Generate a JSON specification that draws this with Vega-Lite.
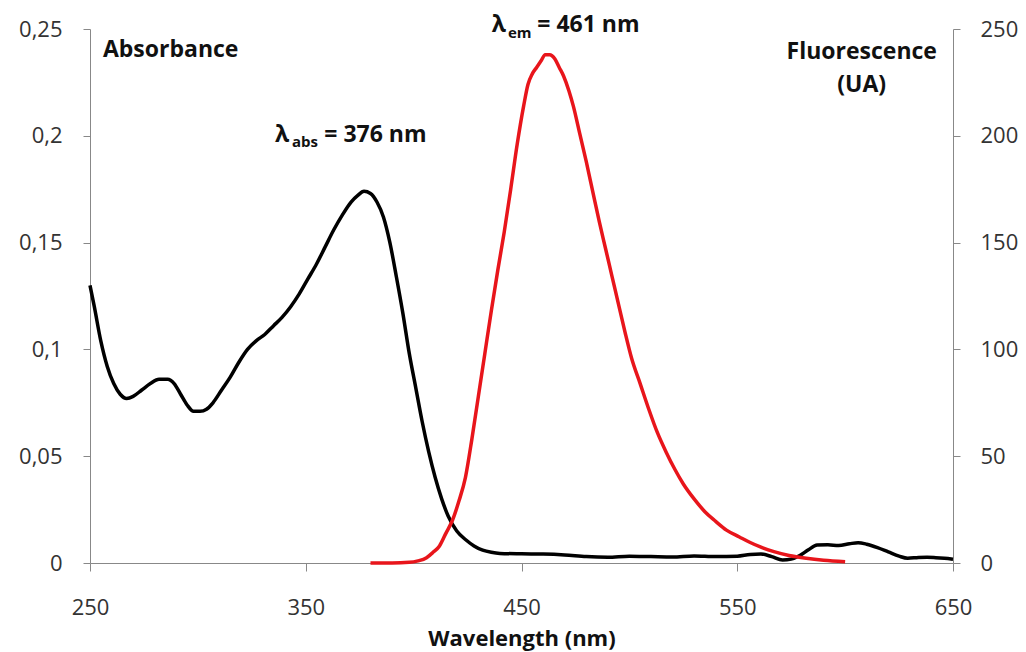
{
  "$schema": "https://vega.github.io/schema/vega-lite/v6.json",
  "width": 863,
  "height": 534,
  "autosize": {"type": "none"},
  "padding": {"left": 90, "top": 29, "right": 73, "bottom": 89},
  "background": "white",
  "config": {"view": {"stroke": null}, "font": "Open Sans"},
  "datasets": {
    "absorbance": [
      {"wl": 250, "v": 0.130}, {"wl": 252, "v": 0.120}, {"wl": 255, "v": 0.104}, {"wl": 258, "v": 0.092},
      {"wl": 261, "v": 0.084}, {"wl": 264, "v": 0.079}, {"wl": 267, "v": 0.077}, {"wl": 270, "v": 0.078},
      {"wl": 274, "v": 0.081}, {"wl": 278, "v": 0.084}, {"wl": 282, "v": 0.086}, {"wl": 286, "v": 0.086},
      {"wl": 289, "v": 0.084}, {"wl": 292, "v": 0.079}, {"wl": 295, "v": 0.074}, {"wl": 298, "v": 0.071},
      {"wl": 301, "v": 0.071}, {"wl": 304, "v": 0.072}, {"wl": 307, "v": 0.075}, {"wl": 311, "v": 0.081},
      {"wl": 315, "v": 0.087}, {"wl": 319, "v": 0.094}, {"wl": 323, "v": 0.100}, {"wl": 327, "v": 0.104},
      {"wl": 331, "v": 0.107}, {"wl": 335, "v": 0.111}, {"wl": 339, "v": 0.115}, {"wl": 343, "v": 0.120},
      {"wl": 347, "v": 0.126}, {"wl": 351, "v": 0.133}, {"wl": 355, "v": 0.140}, {"wl": 359, "v": 0.148},
      {"wl": 363, "v": 0.156}, {"wl": 367, "v": 0.163}, {"wl": 371, "v": 0.169}, {"wl": 374, "v": 0.172},
      {"wl": 377, "v": 0.174}, {"wl": 380, "v": 0.173}, {"wl": 383, "v": 0.169}, {"wl": 386, "v": 0.162},
      {"wl": 389, "v": 0.150}, {"wl": 392, "v": 0.134}, {"wl": 395, "v": 0.117}, {"wl": 398, "v": 0.098},
      {"wl": 401, "v": 0.082}, {"wl": 404, "v": 0.066}, {"wl": 407, "v": 0.052}, {"wl": 410, "v": 0.040},
      {"wl": 413, "v": 0.030}, {"wl": 416, "v": 0.022}, {"wl": 420, "v": 0.015}, {"wl": 424, "v": 0.011},
      {"wl": 428, "v": 0.008}, {"wl": 432, "v": 0.006}, {"wl": 436, "v": 0.005}, {"wl": 440, "v": 0.0045},
      {"wl": 450, "v": 0.0043}, {"wl": 460, "v": 0.0042}, {"wl": 470, "v": 0.0038}, {"wl": 480, "v": 0.0030},
      {"wl": 490, "v": 0.0027}, {"wl": 500, "v": 0.0032}, {"wl": 510, "v": 0.0030}, {"wl": 520, "v": 0.0028},
      {"wl": 530, "v": 0.0033}, {"wl": 540, "v": 0.0030}, {"wl": 550, "v": 0.0032}, {"wl": 556, "v": 0.0040},
      {"wl": 561, "v": 0.0042}, {"wl": 566, "v": 0.0030}, {"wl": 571, "v": 0.0014}, {"wl": 575, "v": 0.0018},
      {"wl": 579, "v": 0.0035}, {"wl": 583, "v": 0.0062}, {"wl": 587, "v": 0.0084}, {"wl": 592, "v": 0.0085},
      {"wl": 597, "v": 0.0082}, {"wl": 602, "v": 0.0090}, {"wl": 606, "v": 0.0095}, {"wl": 610, "v": 0.0088},
      {"wl": 615, "v": 0.0072}, {"wl": 620, "v": 0.0052}, {"wl": 625, "v": 0.0032}, {"wl": 629, "v": 0.0022},
      {"wl": 634, "v": 0.0026}, {"wl": 638, "v": 0.0027}, {"wl": 642, "v": 0.0025}, {"wl": 646, "v": 0.0022},
      {"wl": 650, "v": 0.0018}
    ],
    "fluorescence": [
      {"wl": 380, "f": 0}, {"wl": 390, "f": 0}, {"wl": 398, "f": 0.3}, {"wl": 402, "f": 1},
      {"wl": 406, "f": 2.5}, {"wl": 409, "f": 5}, {"wl": 412, "f": 8}, {"wl": 415, "f": 14},
      {"wl": 418, "f": 20}, {"wl": 421, "f": 29}, {"wl": 424, "f": 40}, {"wl": 427, "f": 58},
      {"wl": 430, "f": 78}, {"wl": 433, "f": 98}, {"wl": 436, "f": 118}, {"wl": 439, "f": 137},
      {"wl": 442, "f": 155}, {"wl": 445, "f": 175}, {"wl": 448, "f": 196}, {"wl": 451, "f": 214},
      {"wl": 453, "f": 224}, {"wl": 455, "f": 229}, {"wl": 457, "f": 232}, {"wl": 459, "f": 235},
      {"wl": 461, "f": 238}, {"wl": 463, "f": 238}, {"wl": 465.5, "f": 236}, {"wl": 467.5, "f": 232},
      {"wl": 469.5, "f": 228}, {"wl": 472, "f": 221}, {"wl": 474, "f": 214}, {"wl": 477, "f": 201},
      {"wl": 480, "f": 188}, {"wl": 483, "f": 174}, {"wl": 486, "f": 160}, {"wl": 489, "f": 147},
      {"wl": 492, "f": 134}, {"wl": 495, "f": 121}, {"wl": 498, "f": 108}, {"wl": 501, "f": 96},
      {"wl": 505, "f": 84}, {"wl": 509, "f": 72}, {"wl": 513, "f": 61},
      {"wl": 517, "f": 52}, {"wl": 521, "f": 44}, {"wl": 525, "f": 37}, {"wl": 530, "f": 30},
      {"wl": 535, "f": 24}, {"wl": 540, "f": 19.5}, {"wl": 545, "f": 15.4}, {"wl": 551, "f": 12.2},
      {"wl": 556, "f": 9.6}, {"wl": 561, "f": 7.4}, {"wl": 567, "f": 5.3}, {"wl": 574, "f": 3.5},
      {"wl": 582, "f": 2.2}, {"wl": 590, "f": 1.3}, {"wl": 600, "f": 0.6}
    ],
    "mainText": [
      {"wl": 256.0, "v": 0.2369, "label": "Absorbance"},
      {"wl": 335.7, "v": 0.1972, "label": "λ"},
      {"wl": 358.6, "v": 0.1972, "label": "= 376 nm"},
      {"wl": 436.2, "v": 0.2487, "label": "λ"},
      {"wl": 457.3, "v": 0.2487, "label": "= 461 nm"}
    ],
    "subText": [
      {"wl": 343.6, "v": 0.1948, "label": "abs"},
      {"wl": 443.7, "v": 0.2458, "label": "em"}
    ],
    "centerText": [
      {"wl": 607.7, "v": 0.2360, "label": "Fluorescence"},
      {"wl": 607.7, "v": 0.2205, "label": "(UA)"}
    ]
  },
  "encoding": {
    "x": {
      "field": "wl", "type": "quantitative",
      "scale": {"domain": [250, 650], "nice": false, "zero": false},
      "axis": {
        "values": [250, 350, 450, 550, 650],
        "title": "Wavelength (nm)",
        "titleFontSize": 22, "titleFontWeight": "bold", "titleColor": "#111",
        "titleY": 82, "titleBaseline": "alphabetic",
        "labelFontSize": 22, "labelColor": "#333", "labelPadding": 26,
        "labelFlush": false, "labelOverlap": false,
        "tickSize": 8, "tickColor": "#888", "domainColor": "#888", "grid": false
      }
    }
  },
  "layer": [
    {
      "data": {"name": "absorbance"},
      "mark": {"type": "line", "color": "#000", "strokeWidth": 3.5, "interpolate": "monotone"},
      "encoding": {
        "y": {
          "field": "v", "type": "quantitative",
          "scale": {"domain": [0, 0.25], "nice": false},
          "axis": {
            "orient": "left", "title": null,
            "values": [0, 0.05, 0.1, 0.15, 0.2, 0.25],
            "labelExpr": "replace(format(datum.value, '~g'), '.', ',')",
            "labelFontSize": 22, "labelColor": "#333", "labelPadding": 21,
            "labelFlush": false, "labelOverlap": false,
            "tickSize": 7, "tickColor": "#888", "domainColor": "#888", "grid": false
          }
        }
      }
    },
    {
      "data": {"name": "fluorescence"},
      "mark": {"type": "line", "color": "#e8151b", "strokeWidth": 3.5, "interpolate": "monotone"},
      "encoding": {
        "y": {
          "field": "f", "type": "quantitative",
          "scale": {"domain": [0, 250], "nice": false},
          "axis": {
            "orient": "right", "title": null,
            "values": [0, 50, 100, 150, 200, 250],
            "labelFontSize": 22, "labelColor": "#333", "labelPadding": 20,
            "labelFlush": false, "labelOverlap": false,
            "tickSize": 7, "tickColor": "#888", "domainColor": "#888", "grid": false
          }
        }
      }
    },
    {
      "data": {"name": "mainText"},
      "mark": {"type": "text", "align": "left", "baseline": "alphabetic", "fontSize": 23, "fontWeight": "bold", "color": "#111"},
      "encoding": {
        "y": {"field": "v", "type": "quantitative", "scale": {"domain": [0, 0.25], "nice": false}, "axis": null},
        "text": {"field": "label"}
      }
    },
    {
      "data": {"name": "subText"},
      "mark": {"type": "text", "align": "left", "baseline": "alphabetic", "fontSize": 15, "fontWeight": "bold", "color": "#111"},
      "encoding": {
        "y": {"field": "v", "type": "quantitative", "scale": {"domain": [0, 0.25], "nice": false}, "axis": null},
        "text": {"field": "label"}
      }
    },
    {
      "data": {"name": "centerText"},
      "mark": {"type": "text", "align": "center", "baseline": "alphabetic", "fontSize": 23, "fontWeight": "bold", "color": "#111"},
      "encoding": {
        "y": {"field": "v", "type": "quantitative", "scale": {"domain": [0, 0.25], "nice": false}, "axis": null},
        "text": {"field": "label"}
      }
    }
  ],
  "resolve": {"scale": {"y": "independent"}}
}
